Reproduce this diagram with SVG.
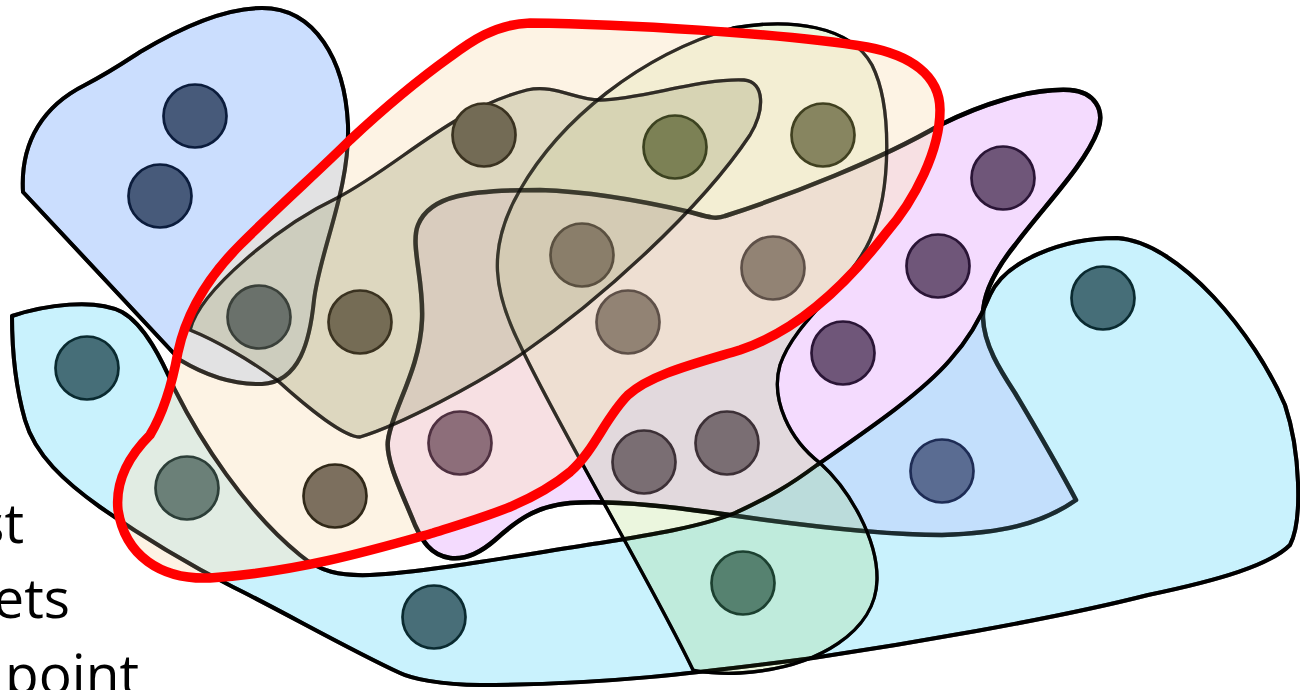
<svg xmlns="http://www.w3.org/2000/svg" xmlns:xlink="http://www.w3.org/1999/xlink" width="1300" height="690" viewBox="0 0 1300 690">
<style>
  .lbl { font-family: "Open Sans", "Noto Sans", "Liberation Sans", sans-serif; font-size: 55px; fill: #000; }
  .set { stroke: #000; stroke-linejoin: round; }
  .blueTL { fill: #93bafc; fill-opacity: 0.48; stroke-width: 4; }
  .purple { fill: #e8b4fd; fill-opacity: 0.48; stroke-width: 4.5; }
  .cyan { fill: #8fe4fb; fill-opacity: 0.48; stroke-width: 4; }
  .mint { fill: #9bd25a; fill-opacity: 0.2; stroke-width: 3.3; }
  .olive { fill: #667a4d; fill-opacity: 0.4; stroke-width: 3.3; }
  .peach { fill: #fbe6c7; fill-opacity: 0.48; stroke: none; }
  .ink { fill: none; stroke: #000; stroke-opacity: 0.6; stroke-linejoin: round; }
  .redline { fill: none; stroke: #ff0000; stroke-width: 9.5; stroke-linejoin: round; }
  .dot { stroke-width: 2.7; }
</style>
<defs>
  <path id="p-blueTL" d="M 23,192 C 20,140 45,105 85,85 C 110,72 120,65 140,52 C 180,28 225,8 262,8 C 315,8 345,60 348,125 C 350,190 320,250 314,300 C 310,340 300,382 262,384 C 230,385 200,372 180,360 L 23,192 Z"/>
  <path id="p-purple" d="M 1070,90 C 1095,92 1105,110 1098,130 C 1085,165 1045,205 1015,245 C 995,270 982,295 983,318 C 984,345 1000,370 1015,393 C 1040,435 1060,470 1076,500 C 1040,525 1000,533 942,535 C 880,535 800,525 730,515 C 680,508 620,500 570,503 C 535,506 515,522 495,540 C 480,553 465,560 450,558 C 430,555 422,540 415,525 C 403,495 385,460 388,440 C 392,410 420,370 422,320 C 424,280 410,245 418,225 C 430,195 470,190 540,190 C 600,192 660,205 690,212 C 705,216 715,220 725,216 C 790,195 880,160 940,125 C 980,105 1030,88 1070,90 Z"/>
  <path id="p-cyan" d="M 12,316 C 45,305 95,298 122,312 C 145,325 162,360 175,390 C 200,440 245,510 300,555 C 320,572 340,576 370,575 C 430,572 520,555 600,543 C 650,535 700,527 735,513 C 770,497 790,485 817,465 C 860,435 920,395 950,360 C 968,340 980,320 990,295 C 1005,262 1060,238 1117,238 C 1180,242 1255,335 1285,405 C 1300,450 1303,520 1290,545 C 1270,565 1220,580 1148,595 C 1050,620 900,645 813,658 C 700,673 600,685 480,685 C 440,685 410,678 400,673 C 350,650 280,610 233,587 C 180,560 140,535 100,507 C 65,482 35,455 25,420 C 15,385 12,350 12,316 Z"/>
  <path id="p-mint" d="M 733,28 C 790,18 850,25 872,65 C 892,105 892,190 870,240 C 850,285 795,320 780,365 C 770,400 790,440 820,463 C 850,490 878,540 877,580 C 876,630 820,668 740,673 C 720,674 700,672 693,670 C 650,580 560,430 520,345 C 495,295 485,250 520,190 C 560,120 640,55 733,28 Z"/>
  <path id="p-olive" d="M 190,330 C 200,290 280,225 337,198 C 400,165 450,110 527,90 C 555,84 575,100 600,100 C 640,100 700,78 744,80 C 765,82 765,110 750,135 C 700,210 600,300 523,353 C 480,383 400,425 360,437 C 345,437 310,410 277,380 C 250,360 215,340 190,330 Z"/>
  <path id="p-red" d="M 150,435 C 162,415 172,385 178,352 C 186,315 205,280 240,245 C 280,205 320,170 350,140 C 380,112 415,82 450,57 C 470,42 495,24 530,23 C 620,24 780,33 867,47 C 910,55 940,75 940,110 C 940,150 915,200 886,233 C 850,280 800,330 740,350 C 690,365 650,375 628,395 C 605,418 595,450 570,472 C 530,505 480,518 433,533 C 380,548 300,572 210,578 C 160,580 125,555 118,510 C 115,480 130,455 150,435 Z"/>
</defs>

<g id="labels">
  <text class="lbl" x="24" y="543" text-anchor="end">st</text>
  <text class="lbl" x="70" y="618" text-anchor="end">ets</text>
  <text class="lbl" x="139" y="694" text-anchor="end">point</text>
</g>

<g id="set-blue-topleft"><use xlink:href="#p-blueTL" class="set blueTL"/></g>
<g id="set-purple"><use xlink:href="#p-purple" class="set purple"/></g>
<g id="set-cyan"><use xlink:href="#p-cyan" class="set cyan"/></g>
<g id="set-mint"><use xlink:href="#p-mint" class="set mint"/></g>
<g id="set-olive"><use xlink:href="#p-olive" class="set olive"/></g>
<g id="set-red-fill"><use xlink:href="#p-red" class="peach"/></g>

<g id="outline-ink">
  <use xlink:href="#p-blueTL" class="ink" stroke-width="4"/>
  <use xlink:href="#p-purple" class="ink" stroke-width="4.5"/>
  <use xlink:href="#p-cyan" class="ink" stroke-width="4"/>
  <use xlink:href="#p-mint" class="ink" stroke-width="3.3"/>
  <use xlink:href="#p-olive" class="ink" stroke-width="3.3"/>
</g>

<g id="points">
  <g id="pt1"><circle class="dot" cx="195" cy="116" r="31.5" fill="#475a7a" stroke="#0b1c3c"/></g>
  <g id="pt2"><circle class="dot" cx="160" cy="196" r="31.5" fill="#475a7a" stroke="#0b1c3c"/></g>
  <g id="pt3"><circle class="dot" cx="87" cy="368" r="31.5" fill="#466e78" stroke="#0a2a30"/></g>
  <g id="pt4"><circle class="dot" cx="259" cy="317" r="31.5" fill="#6a716b" stroke="#3a403a"/></g>
  <g id="pt5"><circle class="dot" cx="360" cy="322" r="31.5" fill="#756c55" stroke="#3a3220"/></g>
  <g id="pt6"><circle class="dot" cx="484" cy="135" r="31.5" fill="#736b55" stroke="#3a3220"/></g>
  <g id="pt7"><circle class="dot" cx="675" cy="147" r="31.5" fill="#7c8155" stroke="#3c4220"/></g>
  <g id="pt8"><circle class="dot" cx="823" cy="135" r="31.5" fill="#878560" stroke="#404020"/></g>
  <g id="pt9"><circle class="dot" cx="1003" cy="178" r="31.5" fill="#6f5679" stroke="#2a1536"/></g>
  <g id="pt10"><circle class="dot" cx="938" cy="266" r="31.5" fill="#6f5679" stroke="#2a1536"/></g>
  <g id="pt11"><circle class="dot" cx="843" cy="353" r="31.5" fill="#6f5679" stroke="#2a1536"/></g>
  <g id="pt12"><circle class="dot" cx="1103" cy="298" r="31.5" fill="#466e78" stroke="#0a2a30"/></g>
  <g id="pt13"><circle class="dot" cx="582" cy="255" r="31.5" fill="#8a7e6a" stroke="#5a5040"/></g>
  <g id="pt14"><circle class="dot" cx="773" cy="268" r="31.5" fill="#928374" stroke="#5e5048"/></g>
  <g id="pt15"><circle class="dot" cx="628" cy="322" r="31.5" fill="#928374" stroke="#5e5048"/></g>
  <g id="pt16"><circle class="dot" cx="460" cy="443" r="31.5" fill="#8d6e7a" stroke="#4e3040"/></g>
  <g id="pt17"><circle class="dot" cx="644" cy="462" r="31.5" fill="#7a6e73" stroke="#3c3036"/></g>
  <g id="pt18"><circle class="dot" cx="727" cy="443" r="31.5" fill="#7a6e73" stroke="#3c3036"/></g>
  <g id="pt19"><circle class="dot" cx="187" cy="488" r="31.5" fill="#6b8078" stroke="#2c3e38"/></g>
  <g id="pt20"><circle class="dot" cx="335" cy="496" r="31.5" fill="#7c6f5e" stroke="#302818"/></g>
  <g id="pt21"><circle class="dot" cx="434" cy="617" r="31.5" fill="#486e78" stroke="#0a2a30"/></g>
  <g id="pt22"><circle class="dot" cx="743" cy="583" r="31.5" fill="#568270" stroke="#1c4030"/></g>
  <g id="pt23"><circle class="dot" cx="942" cy="471" r="31.5" fill="#5a6c92" stroke="#1e2c55"/></g>
</g>

<g id="set-red-outline"><use xlink:href="#p-red" class="redline"/></g>
</svg>
